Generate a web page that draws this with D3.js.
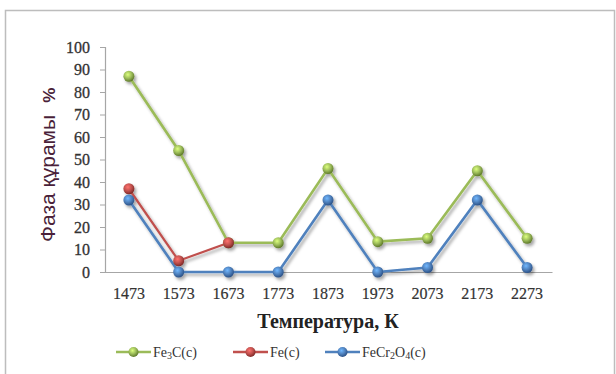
<!DOCTYPE html>
<html>
<head>
<meta charset="utf-8">
<script src="https://cdn.jsdelivr.net/npm/d3@7"></script>
<style>
  body { margin: 0; background: #fff; }
  svg { display: block; }
</style>
</head>
<body>
<div id="root"></div>
<script>
// data
var temps = ["1473", "1573", "1673", "1773", "1873", "1973", "2073", "2173", "2273"]
var fe3c = [87, 54, 13, 13, 46, 13.5, 15, 45, 15]
var fe = [37, 5, 13, null, null, null, null, null, null]
var fecr2o4 = [32, 0, 0, 0, 32, 0, 2, 32, 2]
var yTicks = [0, 10, 20, 30, 40, 50, 60, 70, 80, 90, 100]

var seriesNames = [["Fe", "3", "C(c)"], ["Fe(c)"], ["FeCr", "2", "O", "4", "(c)"]]
var seriesColors = ["#9bbb59", "#c0504d", "#4f81bd"]
var seriesDark = ["#5f7a2a", "#7f2a28", "#2c5287"]

var width = 616, height = 374
var svg = d3.select("#root").append("svg")
  .attr("width", width)
  .attr("height", height)

var defs = svg.append("defs")
var shadow = defs.append("filter").attr("id", "shadow")
  .attr("x", "-20%").attr("y", "-20%").attr("width", "150%").attr("height", "150%")
shadow.append("feDropShadow")
  .attr("dx", 2).attr("dy", 2.5).attr("stdDeviation", 1.6)
  .attr("flood-color", "#000").attr("flood-opacity", 0.35)

seriesColors.forEach(function(c, i){
  var g = defs.append("radialGradient").attr("id", "ball" + i)
    .attr("cx", "40%").attr("cy", "35%").attr("r", "65%")
  g.append("stop").attr("offset", "0%").attr("stop-color", d3.color(c).brighter(1))
  g.append("stop").attr("offset", "55%").attr("stop-color", c)
  g.append("stop").attr("offset", "100%").attr("stop-color", seriesDark[i])
})

// outer frame
svg.append("rect")
  .attr("x", 5.5).attr("y", 10.5)
  .attr("width", 609).attr("height", 420)
  .attr("fill", "#fff")
  .attr("stroke", "#bdbdbd")
  .attr("stroke-width", 1.5)

var margin = { top: 47, right: 64, bottom: 102, left: 104 }
var serif = "'Liberation Serif', 'Times New Roman', serif"

var x = d3.scaleBand()
  .domain(temps)
  .range([margin.left, width - margin.right])

var y = d3.scaleLinear()
  .domain([0, 100])
  .range([height - margin.bottom, margin.top])

// y axis
var yAxis = svg.append("g")
  .attr("transform", "translate(" + (margin.left + 1) + ",0)")
  .call(d3.axisLeft(y).tickValues(yTicks).tickSize(5).tickPadding(10))
yAxis.attr("font-family", serif)
yAxis.select(".domain").attr("stroke", "#a6a6a6").attr("stroke-width", 1.2)
yAxis.selectAll(".tick line").attr("stroke", "#a6a6a6")
yAxis.selectAll("text")
  .attr("font-size", 16)
  .attr("fill", "#333")
  .attr("stroke", "#333")
  .attr("stroke-width", 0.3)

// x axis
var xAxis = svg.append("g")
  .attr("transform", "translate(0," + y(0) + ")")
  .call(d3.axisBottom(x).tickSize(0).tickPadding(16))
xAxis.attr("font-family", serif)
xAxis.select(".domain").attr("stroke", "#a6a6a6").attr("stroke-width", 1.2)
xAxis.selectAll("text")
  .attr("font-size", 16)
  .attr("fill", "#333")
  .attr("stroke", "#333")
  .attr("stroke-width", 0.2)

// axis titles
svg.append("text")
  .attr("x", 328)
  .attr("y", 328)
  .attr("text-anchor", "middle")
  .attr("font-family", serif)
  .attr("font-weight", "bold")
  .attr("font-size", 20)
  .attr("fill", "#222")
  .text("Температура, К")

var yTitle = svg.append("text")
  .attr("transform", "translate(55,242) rotate(-90)")
  .attr("text-anchor", "start")
  .attr("font-family", "'Liberation Sans', Arial, sans-serif")
  .attr("font-size", 21)
  .attr("fill", "#4a1f3a")
yTitle.append("tspan").text("Фаза құрамы")
yTitle.append("tspan").attr("dx", 12).attr("font-weight", "bold").attr("font-size", 17).text("%")

// lines and markers
var allSeries = [fe3c, fe, fecr2o4]
var line = d3.line()
  .defined(function(d){ return d != null })
  .x(function(d, i){ return x(temps[i]) + x.bandwidth() / 2 })
  .y(function(d){ return y(d) })

var plot = svg.append("g").attr("filter", "url(#shadow)")

allSeries.forEach(function(vals, si){
  plot.append("path")
    .datum(vals)
    .attr("fill", "none")
    .attr("stroke", seriesColors[si])
    .attr("stroke-width", si == 1 ? 2.2 : 2.6)
    .attr("d", line)
})

allSeries.forEach(function(vals, si){
  plot.selectAll(".pt" + si)
    .data(vals.map(function(v, i){ return { v: v, t: temps[i] } }).filter(function(d){ return d.v != null }))
    .enter().append("circle")
    .attr("class", "pt" + si)
    .attr("cx", function(d){ return x(d.t) + x.bandwidth() / 2 })
    .attr("cy", function(d){ return y(d.v) })
    .attr("r", 5.5)
    .attr("fill", "url(#ball" + si + ")")
})

// legend
var legX = [116, 233, 325]
var legend = svg.append("g")
seriesNames.forEach(function(parts, i){
  var g = legend.append("g").attr("transform", "translate(" + legX[i] + ",352)")
  g.append("line").attr("x1", 0).attr("x2", 35).attr("y1", 0).attr("y2", 0)
    .attr("stroke", seriesColors[i]).attr("stroke-width", 2.4)
  g.append("circle").attr("cx", 17.5).attr("cy", 0).attr("r", 5)
    .attr("fill", "url(#ball" + i + ")")
  var t = g.append("text").attr("x", 37).attr("y", 5)
    .attr("font-family", serif)
    .attr("font-size", 14)
    .attr("fill", "#333")
  parts.forEach(function(p, k){
    var sub = k % 2 == 1
    t.append("tspan")
      .attr("font-size", sub ? 10 : 14)
      .attr("dy", sub ? 2 : (k > 0 ? -2 : 0))
      .text(p)
  })
})
</script>
</body>
</html>
